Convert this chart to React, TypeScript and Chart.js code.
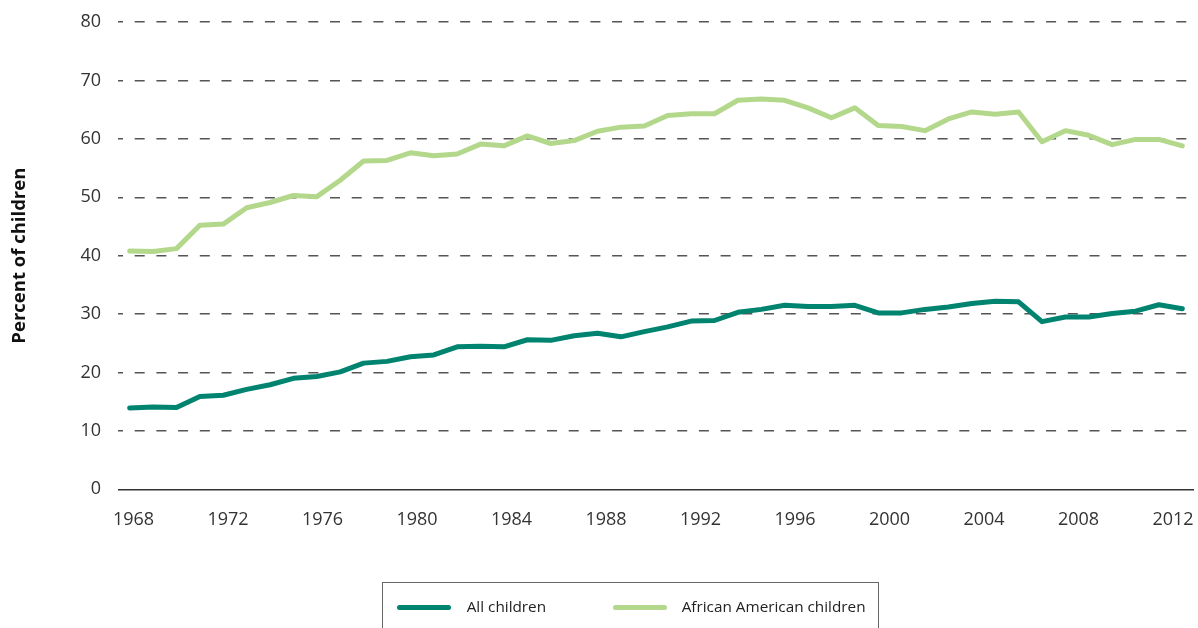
import React, { useEffect, useRef } from "react";
import { Chart, registerables } from "chart.js";

Chart.register(...registerables);

// 46 data points, evenly spaced along the axis
const CATEGORIES = [
  "1968", "1969", "1970", "1971", "1972", "1973", "1974", "1975", "1976", "1977",
  "1978", "1979", "1980", "1981", "1982", "1983", "1984", "1985", "1986", "1987",
  "1988", "1989", "1990", "1991", "1992", "1993", "1994", "1995", "1996", "1997",
  "1998", "1999", "2000", "2001", "2002", "2003", "2004", "2005", "2006", "2007",
  "2008", "2009", "2010", "2011", "2012", "2013",
];

const ALL_CHILDREN = [
  13.9, 14.1, 14.0, 15.9, 16.1, 17.1, 17.9, 19.0, 19.3, 20.1,
  21.6, 21.9, 22.7, 23.0, 24.4, 24.5, 24.4, 25.6, 25.5, 26.3,
  26.7, 26.1, 27.0, 27.8, 28.8, 28.9, 30.3, 30.8, 31.5, 31.3,
  31.3, 31.5, 30.2, 30.2, 30.8, 31.2, 31.8, 32.2, 32.1, 28.7,
  29.5, 29.5, 30.1, 30.5, 31.6, 30.9,
];

const AFRICAN_AMERICAN_CHILDREN = [
  40.8, 40.7, 41.2, 45.2, 45.4, 48.2, 49.1, 50.3, 50.1, 52.9,
  56.2, 56.3, 57.6, 57.1, 57.4, 59.1, 58.8, 60.5, 59.2, 59.7,
  61.3, 62.0, 62.2, 64.0, 64.3, 64.3, 66.6, 66.8, 66.6, 65.3,
  63.6, 65.3, 62.3, 62.1, 61.4, 63.4, 64.6, 64.2, 64.6, 59.5,
  61.4, 60.6, 59.0, 59.9, 59.9, 58.8,
];

const SERIES_LABELS = ["All children", "African American children"];
const SERIES_COLORS = ["#00836f", "#b3d88b"];

const X_TICK_YEARS = [1968, 1972, 1976, 1980, 1984, 1988, 1992, 1996, 2000, 2004, 2008, 2012];
const Y_MIN = 0;
const Y_MAX = 80;
const Y_STEP = 10;
const Y_TITLE = "Percent of children";

const FONT = "'Open Sans', 'Noto Sans', sans-serif";

export default function App() {
  const canvasRef = useRef<HTMLCanvasElement | null>(null);

  useEffect(() => {
    document.body.style.margin = "0";
    const canvas = canvasRef.current;
    if (!canvas) return;
    const chart = new Chart(canvas, {
      type: "line",
      data: {
        labels: CATEGORIES,
        datasets: [
          {
            label: SERIES_LABELS[0],
            data: ALL_CHILDREN,
            borderColor: SERIES_COLORS[0],
            backgroundColor: SERIES_COLORS[0],
            borderWidth: 5,
            pointRadius: 0,
            tension: 0,
            borderCapStyle: "round",
            borderJoinStyle: "round",
            xAxisID: "x",
            yAxisID: "y",
          },
          {
            label: SERIES_LABELS[1],
            data: AFRICAN_AMERICAN_CHILDREN,
            borderColor: SERIES_COLORS[1],
            backgroundColor: SERIES_COLORS[1],
            borderWidth: 5,
            pointRadius: 0,
            tension: 0,
            borderCapStyle: "round",
            borderJoinStyle: "round",
            xAxisID: "x",
            yAxisID: "y",
          },
        ],
      },
      options: {
        responsive: false,
        animation: false,
        devicePixelRatio: 1,
        layout: { padding: { left: 0, right: 4, top: 22, bottom: 98.7 } },
        plugins: {
          legend: { display: false },
          tooltip: { enabled: false },
        },
        scales: {
          x: {
            type: "category",
            display: false,
            offset: true,
          },
          xt: {
            type: "linear",
            position: "bottom",
            min: 1967.344,
            max: 2012.889,
            afterBuildTicks: (scale: any) => {
              scale.ticks = X_TICK_YEARS.map((v) => ({ value: v }));
            },
            afterFit: (scale: any) => {
              scale.height = 40;
              scale.paddingLeft = 0;
              scale.paddingRight = 0;
            },
            grid: { display: false, drawTicks: false },
            border: { display: false },
            ticks: {
              autoSkip: false,
              maxRotation: 0,
              padding: 20,
              color: "#333333",
              font: { family: FONT, size: 18 },
              callback: (v: any) => String(v),
            },
          },
          y: {
            min: Y_MIN,
            max: Y_MAX,
            afterFit: (scale: any) => {
              scale.width = 118;
              scale.paddingTop = 0;
              scale.paddingBottom = 0;
            },
            ticks: {
              stepSize: Y_STEP,
              padding: 17,
              color: "#333333",
              font: { family: FONT, size: 18 },
            },
            grid: {
              drawTicks: false,
              color: (ctx: any) => (ctx.tick && ctx.tick.value === 0 ? "#333333" : "#555555"),
              lineWidth: (ctx: any) => (ctx.tick && ctx.tick.value === 0 ? 1.5 : 1.4),
            },
            border: {
              display: false,
              dash: (ctx: any) => (ctx.tick && ctx.tick.value === 0 ? [] : [10, 11.7]),
              dashOffset: 5,
            },
            title: {
              display: true,
              text: Y_TITLE,
              color: "#111111",
              font: { family: FONT, size: 18.5, weight: "bold" },
              padding: { top: 9, bottom: 0 },
            },
          },
        },
      },
    });
    return () => chart.destroy();
  }, []);

  return (
    <div
      style={{
        position: "absolute",
        left: 0,
        top: 0,
        width: 1198,
        height: 628,
        overflow: "hidden",
        background: "#ffffff",
      }}
    >
      <canvas
        ref={canvasRef}
        width={1198}
        height={628}
        style={{ position: "absolute", left: 0, top: 0, width: 1198, height: 628 }}
      />
      <div
        style={{
          position: "absolute",
          left: 381.7,
          top: 581.7,
          width: 497.3,
          height: 80,
          border: "1.3px solid #666666",
          boxSizing: "border-box",
        }}
      />
      {SERIES_LABELS.map((label, i) => {
        const swatchLeft = i === 0 ? 397 : 613;
        const textLeft = i === 0 ? 466.7 : 681.7;
        return (
          <React.Fragment key={label}>
            <div
              style={{
                position: "absolute",
                left: swatchLeft,
                top: 604.5,
                width: 54,
                height: 5,
                borderRadius: 2.5,
                background: SERIES_COLORS[i],
              }}
            />
            <div
              style={{
                position: "absolute",
                left: textLeft,
                top: 596,
                height: 20,
                lineHeight: "20px",
                fontFamily: FONT,
                fontSize: 15.3,
                color: "#222222",
                whiteSpace: "nowrap",
              }}
            >
              {label}
            </div>
          </React.Fragment>
        );
      })}
    </div>
  );
}
